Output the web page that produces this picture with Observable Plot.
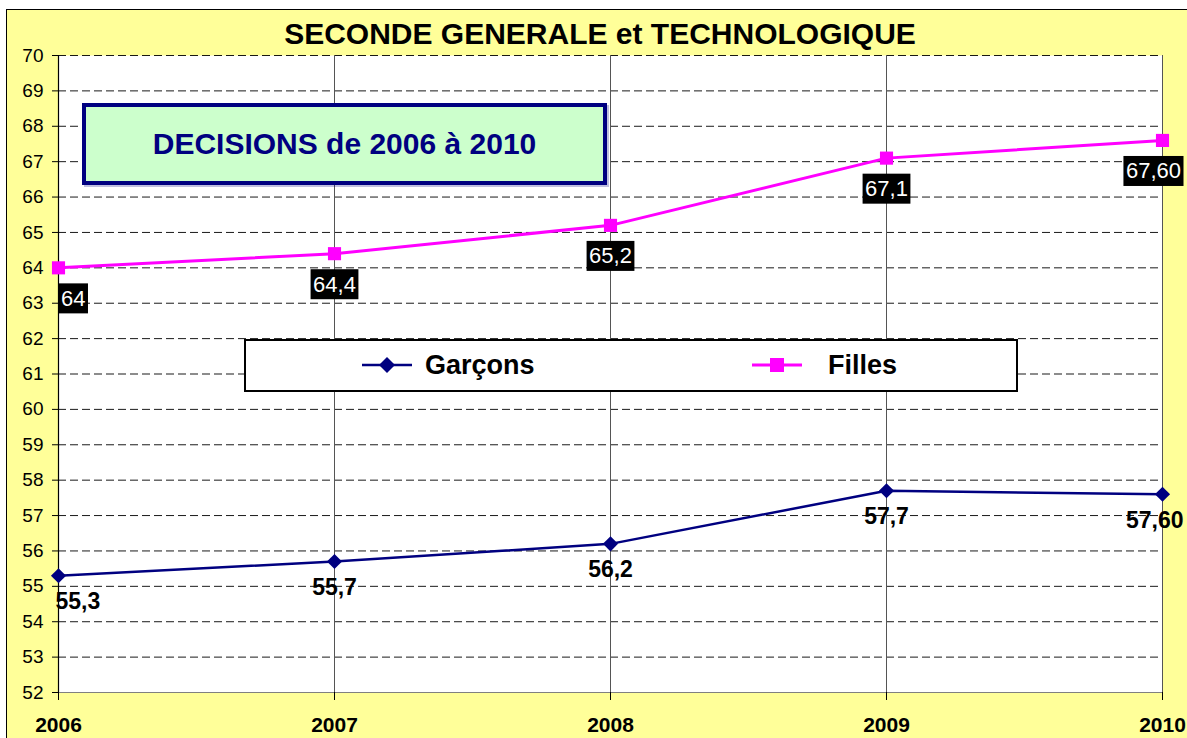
<!DOCTYPE html>
<html>
<head>
<meta charset="utf-8">
<script src="https://cdn.jsdelivr.net/npm/d3@7"></script>
<script src="https://cdn.jsdelivr.net/npm/@observablehq/plot@0.6"></script>
<style>
  body { margin: 0; background: #ffffff; font-family: Arial, "Liberation Sans", sans-serif; }
  #wrap { position: relative; width: 1187px; height: 738px; overflow: hidden; }
  #bg { position: absolute; left: 6px; top: 9px; width: 1200px; height: 760px; background: #FFFF99; border: 1.5px solid #000; box-sizing: border-box; }
  #chart { position: absolute; left: 0; top: 0; }
  #title { position: absolute; left: 0; width: 1200px; top: 19px; height: 30px; line-height: 30px; text-align: center; font-weight: bold; font-size: 30px; color: #000; white-space: nowrap; }
  #decision { position: absolute; left: 82px; top: 103px; width: 525px; height: 82px; border: 4px solid #000080; background: #CCFFCC; box-sizing: border-box; display: flex; align-items: center; justify-content: center; font-weight: bold; font-size: 30px; color: #000080; white-space: nowrap; box-shadow: 2px 2px 0 rgba(0,0,128,0.25); }
  #legend { position: absolute; left: 244px; top: 339px; width: 774px; height: 53px; border: 2.5px solid #000; background: #fff; box-sizing: border-box; }
  .sym { position: absolute; top: 0; }
  .txt { position: absolute; top: 0; height: 48px; display: flex; align-items: center; font-weight: bold; font-size: 27px; color: #000; white-space: nowrap; }
</style>
</head>
<body>
<div id="wrap">
  <div id="bg"></div>
  <div id="chart"></div>
  <div id="title"></div>
  <div id="decision"></div>
  <div id="legend"></div>
</div>
<script>
// ---- Data ----
const years = [2006, 2007, 2008, 2009, 2010];
const garcons = [55.3, 55.7, 56.2, 57.7, 57.6];
const filles = [64, 64.4, 65.2, 67.1, 67.6];
const garconsLabels = ["55,3", "55,7", "56,2", "57,7", "57,60"];
const fillesLabels = ["64", "64,4", "65,2", "67,1", "67,60"];
const yTicks = [52, 53, 54, 55, 56, 57, 58, 59, 60, 61, 62, 63, 64, 65, 66, 67, 68, 69, 70];
const seriesNames = ["Garçons", "Filles"];
const titleText = "SECONDE GENERALE et TECHNOLOGIQUE";
const boxText = "DECISIONS de 2006 à 2010";

const colG = "#000080";
const colF = "#FF00FF";

const rowsG = years.map((y, i) => ({year: y, value: garcons[i], label: garconsLabels[i], i}));
const rowsF = years.map((y, i) => ({year: y, value: filles[i], label: fillesLabels[i], i}));
const last = years.length - 1;

function labelMarks(rows, opts, dxFirst, dxLast, tag) {
  return [
    Plot.text(rows.filter(d => d.i === 0), {x: "year", y: "value", text: "label", textAnchor: "start", dx: dxFirst, ariaDescription: tag, ...opts}),
    Plot.text(rows.filter(d => d.i > 0 && d.i < last), {x: "year", y: "value", text: "label", textAnchor: "middle", ariaDescription: tag, ...opts}),
    Plot.text(rows.filter(d => d.i === last), {x: "year", y: "value", text: "label", textAnchor: "end", dx: dxLast, ariaDescription: tag, ...opts})
  ];
}

const chart = Plot.plot({
  width: 1187,
  height: 738,
  marginLeft: 58,
  marginRight: 25,
  marginTop: 55,
  marginBottom: 46,
  style: {background: "transparent", fontFamily: "Arial, 'Liberation Sans', sans-serif", color: "#000", overflow: "visible"},
  x: {type: "linear", domain: [years[0], years[last]]},
  y: {domain: [yTicks[0], yTicks[yTicks.length - 1]]},
  marks: [
    Plot.frame({fill: "#ffffff", stroke: null}),
    Plot.ruleY(yTicks.filter(v => v > yTicks[0]), {stroke: "#000", strokeWidth: 1, strokeDasharray: "8,4", strokeOpacity: 0.9}),
    Plot.ruleX(years.slice(1), {stroke: "#555", strokeWidth: 1}),
    Plot.ruleY([yTicks[0]], {stroke: "#808080", strokeWidth: 1.2}),
    Plot.axisY({ticks: yTicks, tickFormat: d => String(d), tickSize: 6, tickPadding: 9, fontSize: 19, label: null, stroke: "#000"}),
    Plot.axisX({ticks: years, tickFormat: d => String(d), tickSize: 8, tickPadding: 17, fontSize: 21, fontWeight: "bold", label: null, stroke: "#000"}),
    Plot.ruleX([years[0]], {stroke: "#000", strokeWidth: 1.2}),
    Plot.line(rowsG, {x: "year", y: "value", stroke: colG, strokeWidth: 2.5}),
    Plot.dot(rowsG, {x: "year", y: "value", symbol: "diamond2", r: 6.8, fill: colG, stroke: null}),
    Plot.line(rowsF, {x: "year", y: "value", stroke: colF, strokeWidth: 3}),
    Plot.dot(rowsF, {x: "year", y: "value", symbol: "square", r: 7.4, fill: colF, stroke: null}),
    ...labelMarks(rowsG, {dy: 26, fontSize: 23, fontWeight: "bold", fill: "#000", lineAnchor: "middle"}, -3, 21, "garcons-labels"),
    ...labelMarks(rowsF, {dy: 31, fontSize: 22, fill: "#fff", lineAnchor: "middle"}, 2.5, 18.5, "filles-labels")
  ]
});

document.getElementById("chart").appendChild(chart);

// black backgrounds behind the Filles data labels
const svgNS = "http://www.w3.org/2000/svg";
chart.querySelectorAll('g[aria-description="filles-labels"] text').forEach(t => {
  const b = t.getBBox();
  const r = document.createElementNS(svgNS, "rect");
  r.setAttribute("x", b.x - 2.5);
  r.setAttribute("y", b.y - 2.5);
  r.setAttribute("width", b.width + 5);
  r.setAttribute("height", b.height + 5);
  r.setAttribute("fill", "#000");
  if (t.getAttribute("transform")) r.setAttribute("transform", t.getAttribute("transform"));
  t.parentNode.insertBefore(r, t);
});

document.getElementById("title").textContent = titleText;
document.getElementById("decision").textContent = boxText;

// legend
const legend = document.getElementById("legend");
const symLeft = [116, 506];
const txtLeft = [179, 582];
seriesNames.forEach((name, i) => {
  const col = i === 0 ? colG : colF;
  const sym = i === 0
    ? `<polygon points="25,16 33,24 25,32 17,24" fill="${colG}"/>`
    : `<rect x="18" y="17" width="14" height="14" fill="${colF}"/>`;
  const s = document.createElement("div");
  s.className = "sym";
  s.style.left = symLeft[i] + "px";
  s.innerHTML = `<svg width="50" height="48"><line x1="0" y1="24" x2="50" y2="24" stroke="${col}" stroke-width="${i === 0 ? 2.5 : 3}"/>${sym}</svg>`;
  legend.appendChild(s);
  const t = document.createElement("div");
  t.className = "txt";
  t.style.left = txtLeft[i] + "px";
  t.textContent = name;
  legend.appendChild(t);
});
</script>
</body>
</html>
